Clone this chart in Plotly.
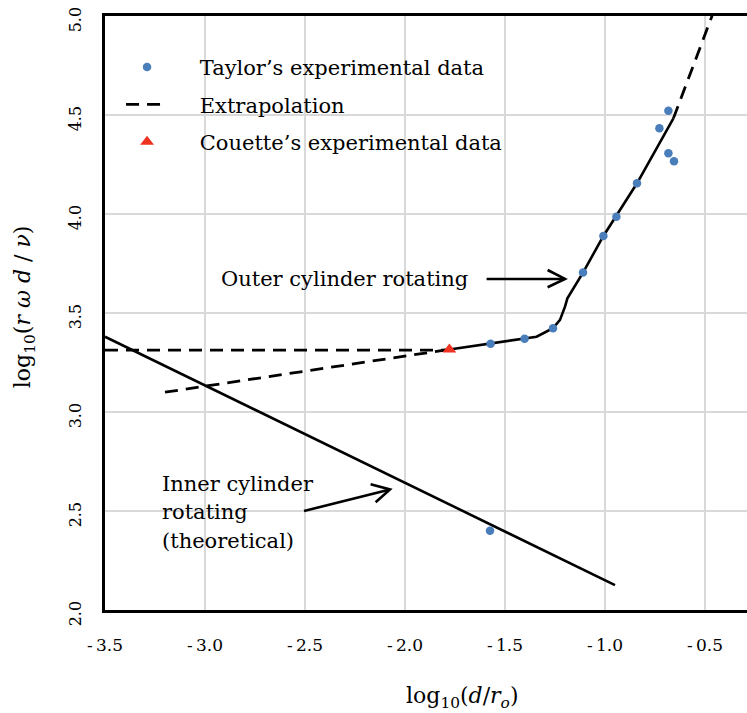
import plotly.graph_objects as go

# ---- data ----
taylor_x = [-1.572, -1.402, -1.26, -1.11, -1.008, -0.943, -0.84, -0.728, -0.683, -0.683, -0.655, -1.575]
taylor_y = [3.345, 3.370, 3.423, 3.704, 3.889, 3.986, 4.155, 4.433, 4.522, 4.307, 4.266, 2.40]

couette_x = [-1.778]
couette_y = [3.316]

outer_x = [-1.778, -1.572, -1.402, -1.342, -1.26, -1.225, -1.2, -1.188, -1.11, -1.008, -0.84, -0.683, -0.658]
outer_y = [3.316, 3.345, 3.370, 3.380, 3.423, 3.465, 3.532, 3.574, 3.704, 3.889, 4.155, 4.433, 4.483]

extrap_up_x = [-0.658, -0.45]
extrap_up_y = [4.483, 5.04]
extrap_flat_x = [-3.5, -1.778]
extrap_flat_y = [3.313, 3.313]
extrap_slope_x = [-3.2, -1.778]
extrap_slope_y = [3.10, 3.316]

inner_x = [-3.5, -0.95]
inner_y = [3.38, 2.126]

x_ticks = [-3.5, -3.0, -2.5, -2.0, -1.5, -1.0, -0.5]
y_ticks = [2.0, 2.5, 3.0, 3.5, 4.0, 4.5, 5.0]

SERIF = "DejaVu Serif"
BLUE = "#4a7ebb"
RED = "#ee3322"
NB = "\u00a0"

fig = go.Figure()

dash = dict(color="black", width=2.8, dash="13px,8px")
fig.add_trace(go.Scatter(x=extrap_flat_x, y=extrap_flat_y, mode="lines", line=dash,
                         name=NB * 4 + "Extrapolation", legendgroup="ex", legendrank=2))
fig.add_trace(go.Scatter(x=extrap_slope_x, y=extrap_slope_y, mode="lines", line=dash,
                         showlegend=False, legendgroup="ex"))
fig.add_trace(go.Scatter(x=extrap_up_x, y=extrap_up_y, mode="lines", line=dash,
                         showlegend=False, legendgroup="ex"))
fig.add_trace(go.Scatter(x=outer_x, y=outer_y, mode="lines",
                         line=dict(color="black", width=2.6), showlegend=False))
fig.add_trace(go.Scatter(x=inner_x, y=inner_y, mode="lines",
                         line=dict(color="black", width=2.6), showlegend=False))
fig.add_trace(go.Scatter(x=taylor_x, y=taylor_y, mode="markers",
                         marker=dict(color=BLUE, size=8.5, symbol="circle"),
                         name=NB * 4 + "Taylor\u2019s experimental data", legendgroup="ta", legendrank=1))
fig.add_trace(go.Scatter(x=couette_x, y=couette_y, mode="markers",
                         marker=dict(color=RED, size=12, symbol="triangle-up"),
                         name=NB * 4 + "Couette\u2019s experimental data", legendgroup="co", legendrank=3))

# arrows (line + open chevron)
arrow = dict(color="black", width=2.6)
shapes = [
    dict(type="path", xref="x", yref="y", path="M-1.592,3.672 L-1.2,3.672", line=arrow),
    dict(type="path", xref="x", yref="y", path="M-1.287,3.717 L-1.2,3.672 L-1.287,3.630", line=arrow),
    dict(type="path", xref="x", yref="y", path="M-2.505,2.50 L-2.075,2.609", line=arrow),
    dict(type="path", xref="x", yref="y", path="M-2.172,2.635 L-2.075,2.609 L-2.147,2.544", line=arrow),
]

txt = dict(family=SERIF, size=21, color="black")
ttl = dict(family=SERIF, size=22, color="black")
annotations = [
    dict(x=-2.93, y=3.672, xref="x", yref="y", text="Outer cylinder rotating",
         showarrow=False, xanchor="left", yanchor="middle", font=txt),
    dict(x=-3.225, y=2.636, xref="x", yref="y", text="Inner cylinder",
         showarrow=False, xanchor="left", yanchor="middle", font=txt),
    dict(x=-3.225, y=2.495, xref="x", yref="y", text="rotating",
         showarrow=False, xanchor="left", yanchor="middle", font=txt),
    dict(x=-3.225, y=2.348, xref="x", yref="y", text="(theoretical)",
         showarrow=False, xanchor="left", yanchor="middle", font=txt),
    # axis titles
    dict(x=0.556, y=-0.148, xref="paper", yref="paper",
         text="log<sub>10</sub>(<i>d</i>/<i>r<sub>o</sub></i>)",
         showarrow=False, xanchor="center", yanchor="middle", font=ttl),
    dict(x=-0.126, y=0.51, xref="paper", yref="paper", textangle=-90,
         text="log<sub>10</sub>(<i>r</i> <i>\u03c9</i> <i>d</i> / <i>\u03bd</i>)",
         showarrow=False, xanchor="center", yanchor="middle", font=ttl),
]

fig.update_layout(
    width=747, height=713,
    margin=dict(l=105, r=0, t=16, b=103),
    paper_bgcolor="white", plot_bgcolor="white",
    font=dict(family=SERIF, size=16, color="black"),
    showlegend=True,
    legend=dict(x=0.025, y=0.948, xanchor="left", yanchor="top",
                bgcolor="rgba(0,0,0,0)", borderwidth=0,
                font=dict(family=SERIF, size=21, color="black"),
                itemwidth=42, traceorder="grouped", tracegroupgap=7),
    shapes=shapes,
    annotations=annotations,
    xaxis=dict(range=[-3.5, -0.29], tickvals=x_ticks,
               ticktext=["-\u2009%.1f" % abs(v) for v in x_ticks],
               showgrid=True, gridcolor="#d9d9d9", gridwidth=1.5,
               showline=True, linecolor="black", linewidth=3, mirror=True,
               ticks="", ticklabelstandoff=18, zeroline=False, automargin=False,
               tickfont=dict(family=SERIF, size=17, color="black")),
    yaxis=dict(range=[2.0, 5.0], tickvals=y_ticks,
               ticktext=["%.1f" % v for v in y_ticks],
               showgrid=True, gridcolor="#d9d9d9", gridwidth=1.5,
               showline=True, linecolor="black", linewidth=3, mirror=False,
               ticks="outside", ticklen=15, tickcolor="rgba(0,0,0,0)",
               tickangle=-90, ticklabelshift=6, zeroline=False, automargin=False,
               tickfont=dict(family=SERIF, size=16, color="black")),
)

fig.write_html("out.html", config={"displayModeBar": False},
               post_script="document.body.style.margin='0px';")
